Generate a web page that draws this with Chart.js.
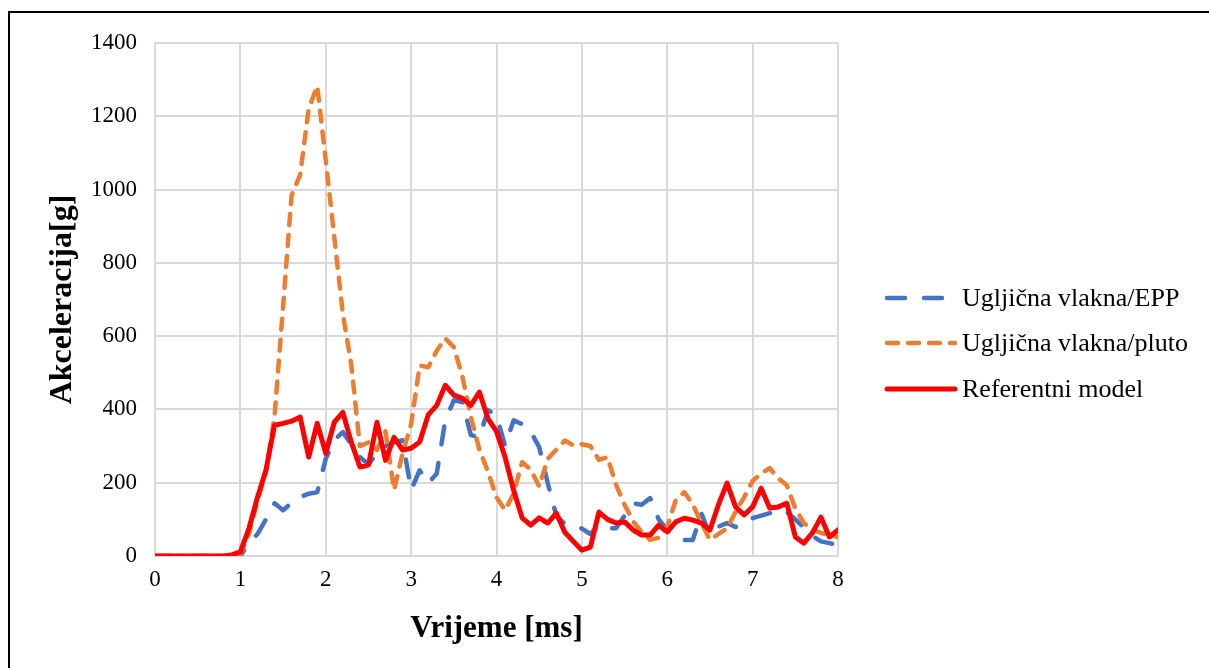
<!DOCTYPE html>
<html>
<head>
<meta charset="utf-8">
<script src="https://cdn.jsdelivr.net/npm/chart.js@4.4.1/dist/chart.umd.min.js"></script>
<style>
  html, body { margin: 0; padding: 0; background: #fff; }
</style>
</head>
<body>
<canvas id="accChart" width="1209" height="668"></canvas>
<script>
// time axis [ms]
const times = [
  0.0, 0.1, 0.2, 0.3, 0.4, 0.5, 0.6, 0.7, 0.8, 0.9,
  1.0, 1.1, 1.2, 1.3, 1.4, 1.5, 1.6, 1.7, 1.8, 1.9,
  2.0, 2.1, 2.2, 2.3, 2.4, 2.5, 2.6, 2.7, 2.8, 2.9,
  3.0, 3.1, 3.2, 3.3, 3.4, 3.5, 3.6, 3.7, 3.8, 3.9,
  4.0, 4.1, 4.2, 4.3, 4.4, 4.5, 4.6, 4.7, 4.8, 4.9,
  5.0, 5.1, 5.2, 5.3, 5.4, 5.5, 5.6, 5.7, 5.8, 5.9,
  6.0, 6.1, 6.2, 6.3, 6.4, 6.5, 6.6, 6.7, 6.8, 6.9,
  7.0, 7.1, 7.2, 7.3, 7.4, 7.5, 7.6, 7.7, 7.8, 7.9,
  8.0
];

// acceleration [g]
const carbonEpp = [
  0, 0, 0, 0, 0, 0, 0, 0, 0, 0,
  0, 35, 60, 100, 144, 125, 145, 161, 170, 174,
  265, 316, 338, 305, 270, 250, 280, 300, 310, 316,
  180, 234, 198, 225, 370, 425, 420, 330, 324, 398,
  384, 300, 370, 360, 340, 297, 199, 110, 88, 84,
  75, 60, 85, 76, 76, 110, 144, 140, 158, 100,
  71, 50, 44, 44, 117, 55, 80, 90, 79, 90,
  103, 110, 117, 125, 120, 100, 78, 55, 40, 35,
  30
];
const carbonCork = [
  0, 0, 0, 0, 0, 0, 0, 0, 0, 0,
  5, 60, 150, 230, 380, 680, 985, 1040, 1220, 1283,
  1080, 870, 662, 520, 300, 310, 290, 340, 180, 280,
  360, 520, 515, 560, 594, 570, 490, 379, 290, 230,
  160, 125, 170, 256, 236, 190, 265, 290, 315, 302,
  305, 300, 262, 270, 195, 140, 95, 65, 44, 50,
  79, 153, 174, 140, 90, 44, 60, 75, 120, 160,
  205, 225, 240, 212, 193, 130, 90, 72, 63, 57,
  52
];
const reference = [
  0, 0, 0, 0, 0, 0, 0, 0, 0, 3,
  11, 75, 160, 235, 357, 362, 368, 379, 270, 362,
  280, 365, 392, 310, 243, 248, 365, 261, 324, 289,
  294, 311, 385, 411, 466, 439, 430, 411, 447, 375,
  340, 270, 180, 104, 84, 104, 90, 117, 65, 40,
  16, 24, 120, 100, 90, 93, 71, 57, 57, 84,
  66, 93, 103, 98, 90, 71, 140, 199, 134, 112,
  134, 185, 131, 134, 144, 52, 35, 63, 106, 52,
  71
];

const seriesNames = ['Ugljična vlakna/EPP', 'Ugljična vlakna/pluto', 'Referentni model'];
const xTitle = 'Vrijeme [ms]';
const yTitle = 'Akceleracija[g]';

const toPoints = (vals) => vals.map((v, i) => ({ x: times[i], y: v }));

const FONT = "'Liberation Serif', 'Times New Roman', serif";
Chart.defaults.font.family = FONT;
Chart.defaults.color = '#000';

const GRID = '#d9d9d9';

// white page + black frame that runs off the right and bottom edge
const framePlugin = {
  id: 'frame',
  beforeDraw(chart) {
    const c = chart.ctx;
    c.save();
    c.fillStyle = '#fff';
    c.fillRect(0, 0, chart.width, chart.height);
    c.restore();
  },
  afterDraw(chart) {
    const c = chart.ctx;
    c.save();
    c.strokeStyle = '#000';
    c.lineWidth = 2;
    c.strokeRect(9, 12, chart.width + 20, chart.height + 20);
    c.restore();
  }
};

// legend on the right, drawn from the datasets (line sample keeps the dash)
const sideLegend = {
  id: 'sideLegend',
  afterDraw(chart) {
    const c = chart.ctx;
    const x0 = chart.chartArea.right + 47;
    const rowY = [298, 343, 389];
    c.save();
    chart.data.datasets.forEach((ds, i) => {
      const y = rowY[i];
      c.strokeStyle = ds.borderColor;
      c.lineWidth = ds.borderWidth;
      c.lineCap = 'round';
      c.setLineDash(ds.borderDash || []);
      c.beginPath();
      c.moveTo(x0 + 2, y);
      c.lineTo(x0 + 70, y);
      c.stroke();
      c.setLineDash([]);
      c.fillStyle = '#000';
      c.font = '26px ' + FONT;
      c.textBaseline = 'middle';
      c.textAlign = 'left';
      c.fillText(ds.label, x0 + 77, y + 1);
    });
    c.restore();
  }
};

const ctx = document.getElementById('accChart').getContext('2d');

new Chart(ctx, {
  type: 'line',
  data: {
    datasets: [{
      label: seriesNames[0],
      data: toPoints(carbonEpp),
      borderColor: '#4472C4',
      borderWidth: 4.5,
      borderDash: [18, 19],
      borderCapStyle: 'round',
      borderJoinStyle: 'round',
      pointRadius: 0,
      tension: 0,
      order: 3
    }, {
      label: seriesNames[1],
      data: toPoints(carbonCork),
      borderColor: '#ED7D31',
      borderWidth: 4.5,
      borderDash: [11, 10],
      borderCapStyle: 'round',
      borderJoinStyle: 'round',
      pointRadius: 0,
      tension: 0,
      order: 2
    }, {
      label: seriesNames[2],
      data: toPoints(reference),
      borderColor: '#FF0000',
      borderWidth: 5,
      borderCapStyle: 'round',
      borderJoinStyle: 'round',
      pointRadius: 0,
      tension: 0,
      order: 1
    }]
  },
  options: {
    responsive: false,
    animation: false,
    layout: {
      padding: { top: 43, bottom: 9, left: 0, right: 371 }
    },
    scales: {
      x: {
        type: 'linear',
        min: 0,
        max: 8,
        ticks: {
          stepSize: 1,
          padding: 10,
          font: { size: 23 }
        },
        grid: { color: GRID, lineWidth: 2, drawTicks: false },
        border: { color: GRID, width: 2 },
        title: {
          display: true,
          text: xTitle,
          font: { size: 31, weight: 'bold' },
          padding: { top: 0, bottom: 11 }
        },
        afterFit(scale) { scale.height = 103; }
      },
      y: {
        min: 0,
        max: 1400,
        ticks: {
          stepSize: 200,
          padding: 18,
          font: { size: 23 },
          callback: (v) => String(v)
        },
        grid: { color: GRID, lineWidth: 2, drawTicks: false },
        border: { color: GRID, width: 2 },
        title: {
          display: true,
          text: yTitle,
          font: { size: 32, weight: 'bold' },
          padding: { top: 44, bottom: 0 }
        },
        afterFit(scale) { scale.width = 155; }
      }
    },
    plugins: {
      legend: { display: false },
      tooltip: { enabled: false }
    }
  },
  plugins: [framePlugin, sideLegend]
});
</script>
</body>
</html>
